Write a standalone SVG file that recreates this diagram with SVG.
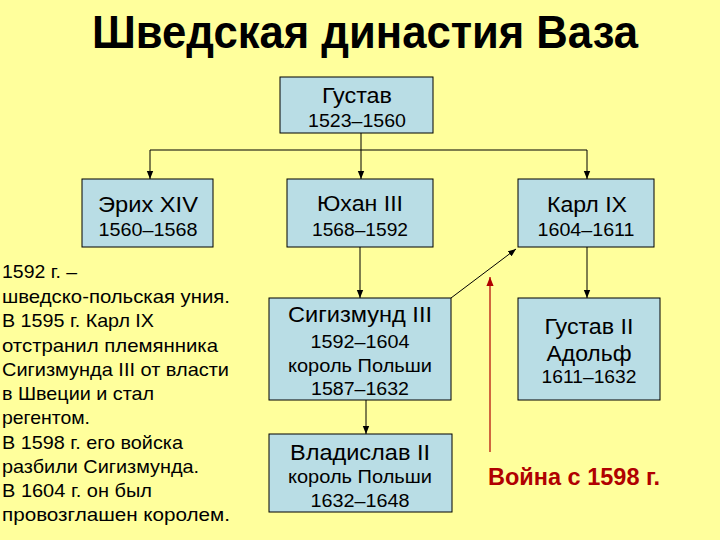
<svg xmlns="http://www.w3.org/2000/svg" width="720" height="540" viewBox="0 0 720 540">
<style>
text{font-family:"Liberation Sans",Arial,sans-serif;fill:#000}
.box{fill:#B9DDE5;stroke:#000;stroke-width:1}
.nm{font-size:22px;text-anchor:middle}
.yr{font-size:18px;text-anchor:middle}
.side{font-size:18.5px}
.con{stroke:#000;stroke-width:1;fill:none}
</style>
<defs>
<marker id="ah" viewBox="0 0 8 8" refX="8" refY="4" markerWidth="8" markerHeight="8" markerUnits="userSpaceOnUse" orient="auto">
<path d="M0,0.8 L8,4 L0,7.2 Z" fill="#000"/>
</marker>
<marker id="ahr" viewBox="0 0 8 8" refX="8" refY="4" markerWidth="9" markerHeight="9" markerUnits="userSpaceOnUse" orient="auto">
<path d="M0,0.8 L8,4 L0,7.2 Z" fill="#B00000"/>
</marker>
</defs>
<rect width="720" height="540" fill="#FFFF9C"/>
<text x="92" y="48" font-size="46" font-weight="bold" textLength="546" lengthAdjust="spacingAndGlyphs">Шведская династия Ваза</text>

<g id="connectors">
<line class="con" x1="361" y1="133" x2="361" y2="150"/>
<line class="con" x1="150" y1="150" x2="587" y2="150"/>
<line class="con" x1="150" y1="150" x2="150" y2="179" marker-end="url(#ah)"/>
<line class="con" x1="361" y1="150" x2="361" y2="179" marker-end="url(#ah)"/>
<line class="con" x1="587" y1="150" x2="587" y2="179" marker-end="url(#ah)"/>
<line class="con" x1="360" y1="247" x2="360" y2="298" marker-end="url(#ah)"/>
<line class="con" x1="587" y1="247" x2="587" y2="298" marker-end="url(#ah)"/>
<line class="con" x1="366" y1="400" x2="366" y2="434" marker-end="url(#ah)"/>
<line class="con" x1="451" y1="298" x2="516" y2="249" stroke-width="0.8" marker-end="url(#ah)"/>
<line x1="490" y1="452" x2="490" y2="277" stroke="#B00000" stroke-width="1.2" marker-end="url(#ahr)"/>
</g>

<g id="gustav">
<rect class="box" x="280" y="77" width="153" height="56"/>
<text class="nm" x="357" y="103" textLength="70" lengthAdjust="spacingAndGlyphs">Густав</text>
<text class="yr" x="357" y="127" textLength="98" lengthAdjust="spacingAndGlyphs">1523–1560</text>
</g>
<g id="erik">
<rect class="box" x="82" y="179" width="131" height="68"/>
<text class="nm" x="148" y="212" textLength="100" lengthAdjust="spacingAndGlyphs">Эрих XIV</text>
<text class="yr" x="148" y="236" textLength="99" lengthAdjust="spacingAndGlyphs">1560–1568</text>
</g>
<g id="johan">
<rect class="box" x="287" y="179" width="146" height="68"/>
<text class="nm" x="360" y="211" textLength="86" lengthAdjust="spacingAndGlyphs">Юхан III</text>
<text class="yr" x="360" y="236" textLength="96" lengthAdjust="spacingAndGlyphs">1568–1592</text>
</g>
<g id="karl">
<rect class="box" x="518" y="179" width="136" height="68"/>
<text class="nm" x="587" y="212" textLength="80" lengthAdjust="spacingAndGlyphs">Карл IX</text>
<text class="yr" x="586" y="236" textLength="97" lengthAdjust="spacingAndGlyphs">1604–1611</text>
</g>
<g id="sigismund">
<rect class="box" x="269" y="298" width="182" height="102"/>
<text class="nm" x="360" y="322" textLength="144" lengthAdjust="spacingAndGlyphs">Сигизмунд III</text>
<text class="yr" x="360" y="348" textLength="99" lengthAdjust="spacingAndGlyphs">1592–1604</text>
<text class="yr" x="360" y="372" textLength="144" lengthAdjust="spacingAndGlyphs">король Польши</text>
<text class="yr" x="360" y="395" textLength="98" lengthAdjust="spacingAndGlyphs">1587–1632</text>
</g>
<g id="gustav2">
<rect class="box" x="518" y="298" width="142" height="102"/>
<text class="nm" x="589" y="334" textLength="89" lengthAdjust="spacingAndGlyphs">Густав II</text>
<text class="nm" x="589" y="361" textLength="85" lengthAdjust="spacingAndGlyphs">Адольф</text>
<text class="yr" x="589" y="383" textLength="95" lengthAdjust="spacingAndGlyphs">1611–1632</text>
</g>
<g id="vladislav">
<rect class="box" x="269" y="434" width="183" height="78"/>
<text class="nm" x="360" y="460" textLength="140" lengthAdjust="spacingAndGlyphs">Владислав II</text>
<text class="yr" x="360" y="483" textLength="144" lengthAdjust="spacingAndGlyphs">король Польши</text>
<text class="yr" x="360" y="507" textLength="99" lengthAdjust="spacingAndGlyphs">1632–1648</text>
</g>

<g id="note">
<text class="side" x="2" y="278" textLength="75" lengthAdjust="spacingAndGlyphs">1592 г. –</text>
<text class="side" x="2" y="303" textLength="228" lengthAdjust="spacingAndGlyphs">шведско-польская уния.</text>
<text class="side" x="2" y="327" textLength="152" lengthAdjust="spacingAndGlyphs">В 1595 г. Карл IX</text>
<text class="side" x="2" y="352" textLength="216" lengthAdjust="spacingAndGlyphs">отстранил племянника</text>
<text class="side" x="2" y="376" textLength="227" lengthAdjust="spacingAndGlyphs">Сигизмунда III от власти</text>
<text class="side" x="2" y="400" textLength="152" lengthAdjust="spacingAndGlyphs">в Швеции и стал</text>
<text class="side" x="2" y="424" textLength="88" lengthAdjust="spacingAndGlyphs">регентом.</text>
<text class="side" x="2" y="449" textLength="181" lengthAdjust="spacingAndGlyphs">В 1598 г. его войска</text>
<text class="side" x="2" y="473" textLength="197" lengthAdjust="spacingAndGlyphs">разбили Сигизмунда.</text>
<text class="side" x="2" y="497" textLength="150" lengthAdjust="spacingAndGlyphs">В 1604 г. он был</text>
<text class="side" x="2" y="521" textLength="228" lengthAdjust="spacingAndGlyphs">провозглашен королем.</text>
</g>

<g id="war">
<text x="488" y="485" font-size="23" font-weight="bold" style="fill:#B00000" textLength="172" lengthAdjust="spacingAndGlyphs">Война с 1598 г.</text>
</g>
</svg>
